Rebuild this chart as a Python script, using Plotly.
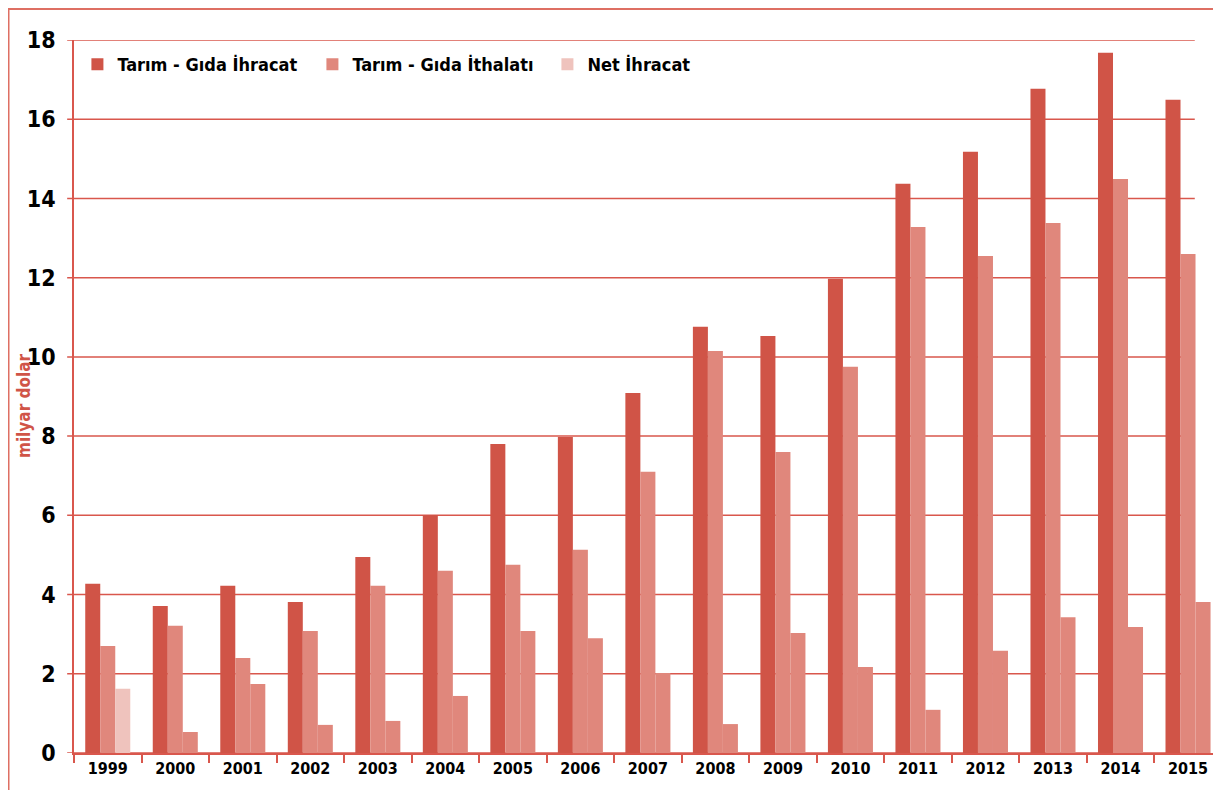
import plotly.graph_objects as go

# Data (milyar dolar)
YEARS = ['1999', '2000', '2001', '2002', '2003', '2004', '2005', '2006', '2007',
         '2008', '2009', '2010', '2011', '2012', '2013', '2014', '2015']
IHRACAT = [4.27, 3.71, 4.22, 3.81, 4.95, 6.01, 7.80, 7.98, 9.09,
           10.76, 10.53, 11.97, 14.37, 15.18, 16.77, 17.68, 16.49]
ITHALAT = [2.70, 3.21, 2.40, 3.08, 4.22, 4.60, 4.75, 5.13, 7.10,
           10.15, 7.60, 9.75, 13.28, 12.55, 13.38, 14.49, 12.60]
NET_IHRACAT = [1.62, 0.53, 1.74, 0.71, 0.81, 1.44, 3.08, 2.90, 2.02,
               0.73, 3.03, 2.17, 1.09, 2.58, 3.43, 3.18, 3.81]
Y_TICKS = [0, 2, 4, 6, 8, 10, 12, 14, 16, 18]

# styling
C_EXP = '#D05447'
C_IMP = '#E0877C'
C_NET = '#EFC3BD'
C_GRID = '#D9574D'
FONT = 'Liberation Sans Narrow, DejaVu Sans Condensed, Arial Narrow, sans-serif'

# only the first net bar uses the light colour in the original
net_colors = [C_NET] + [C_IMP] * (len(NET_IHRACAT) - 1)

fig = go.Figure(data=[
    go.Bar(x=YEARS, y=IHRACAT, name='Tarım - Gıda İhracat',
           marker=dict(color=C_EXP, line=dict(width=0))),
    go.Bar(x=YEARS, y=ITHALAT, name='Tarım - Gıda İthalatı',
           marker=dict(color=C_IMP, line=dict(width=0))),
    go.Bar(x=YEARS, y=NET_IHRACAT, name='Net İhracat',
           marker=dict(color=net_colors, line=dict(width=0))),
])

# gridlines as shapes so they stop short of the right edge like the original
shapes = []
for t in Y_TICKS:
    shapes.append(dict(type='line', xref='paper', yref='y',
                       x0=-0.006, x1=0.984, y0=t, y1=t,
                       line=dict(color=C_GRID, width=1.5), layer='below'))
# outer frame
shapes.append(dict(type='rect', xref='paper', yref='paper',
                   x0=-0.0575, x1=1.02, y0=-0.08, y1=1.0435,
                   line=dict(color='#DE6F63', width=2)))

fig.update_layout(
    # page body adds an 8px margin, so the figure is a bit smaller than the window
    width=1205, height=782,
    margin=dict(l=66, r=0, t=32, b=37),
    paper_bgcolor='white', plot_bgcolor='white',
    barmode='group', bargap=0.333, bargroupgap=0,
    font=dict(family=FONT, color='black', weight='bold'),
    shapes=shapes,
    showlegend=True,
    legend=dict(orientation='h', x=0.003, y=0.9916, xanchor='left', yanchor='top',
                font=dict(family=FONT, size=18, color='black', weight='bold'),
                bgcolor='rgba(0,0,0,0)', itemwidth=30, entrywidth=190,
                traceorder='normal'),
    annotations=[dict(text='milyar dolar', xref='paper', yref='paper',
                      x=-0.0439, y=0.488, xanchor='center', yanchor='middle',
                      textangle=-90, showarrow=False,
                      font=dict(family=FONT, size=17, color=C_EXP, weight='bold'))],
)

fig.update_xaxes(
    type='category', range=[-0.5, 16.37], showgrid=False,
    showline=True, linecolor=C_GRID, linewidth=2,
    ticks='outside', tickson='boundaries', ticklen=8, tickcolor=C_GRID, tickwidth=1.5,
    tickfont=dict(family=FONT, size=16, color='black', weight='bold'),
)
fig.update_yaxes(
    range=[0, 18], tickvals=Y_TICKS, showgrid=False, zeroline=False,
    showline=True, linecolor=C_GRID, linewidth=1.5,
    ticks='', ticklabelstandoff=12,
    tickfont=dict(family=FONT, size=23, color='black', weight='bold'),
)

fig.write_html('out.html')
